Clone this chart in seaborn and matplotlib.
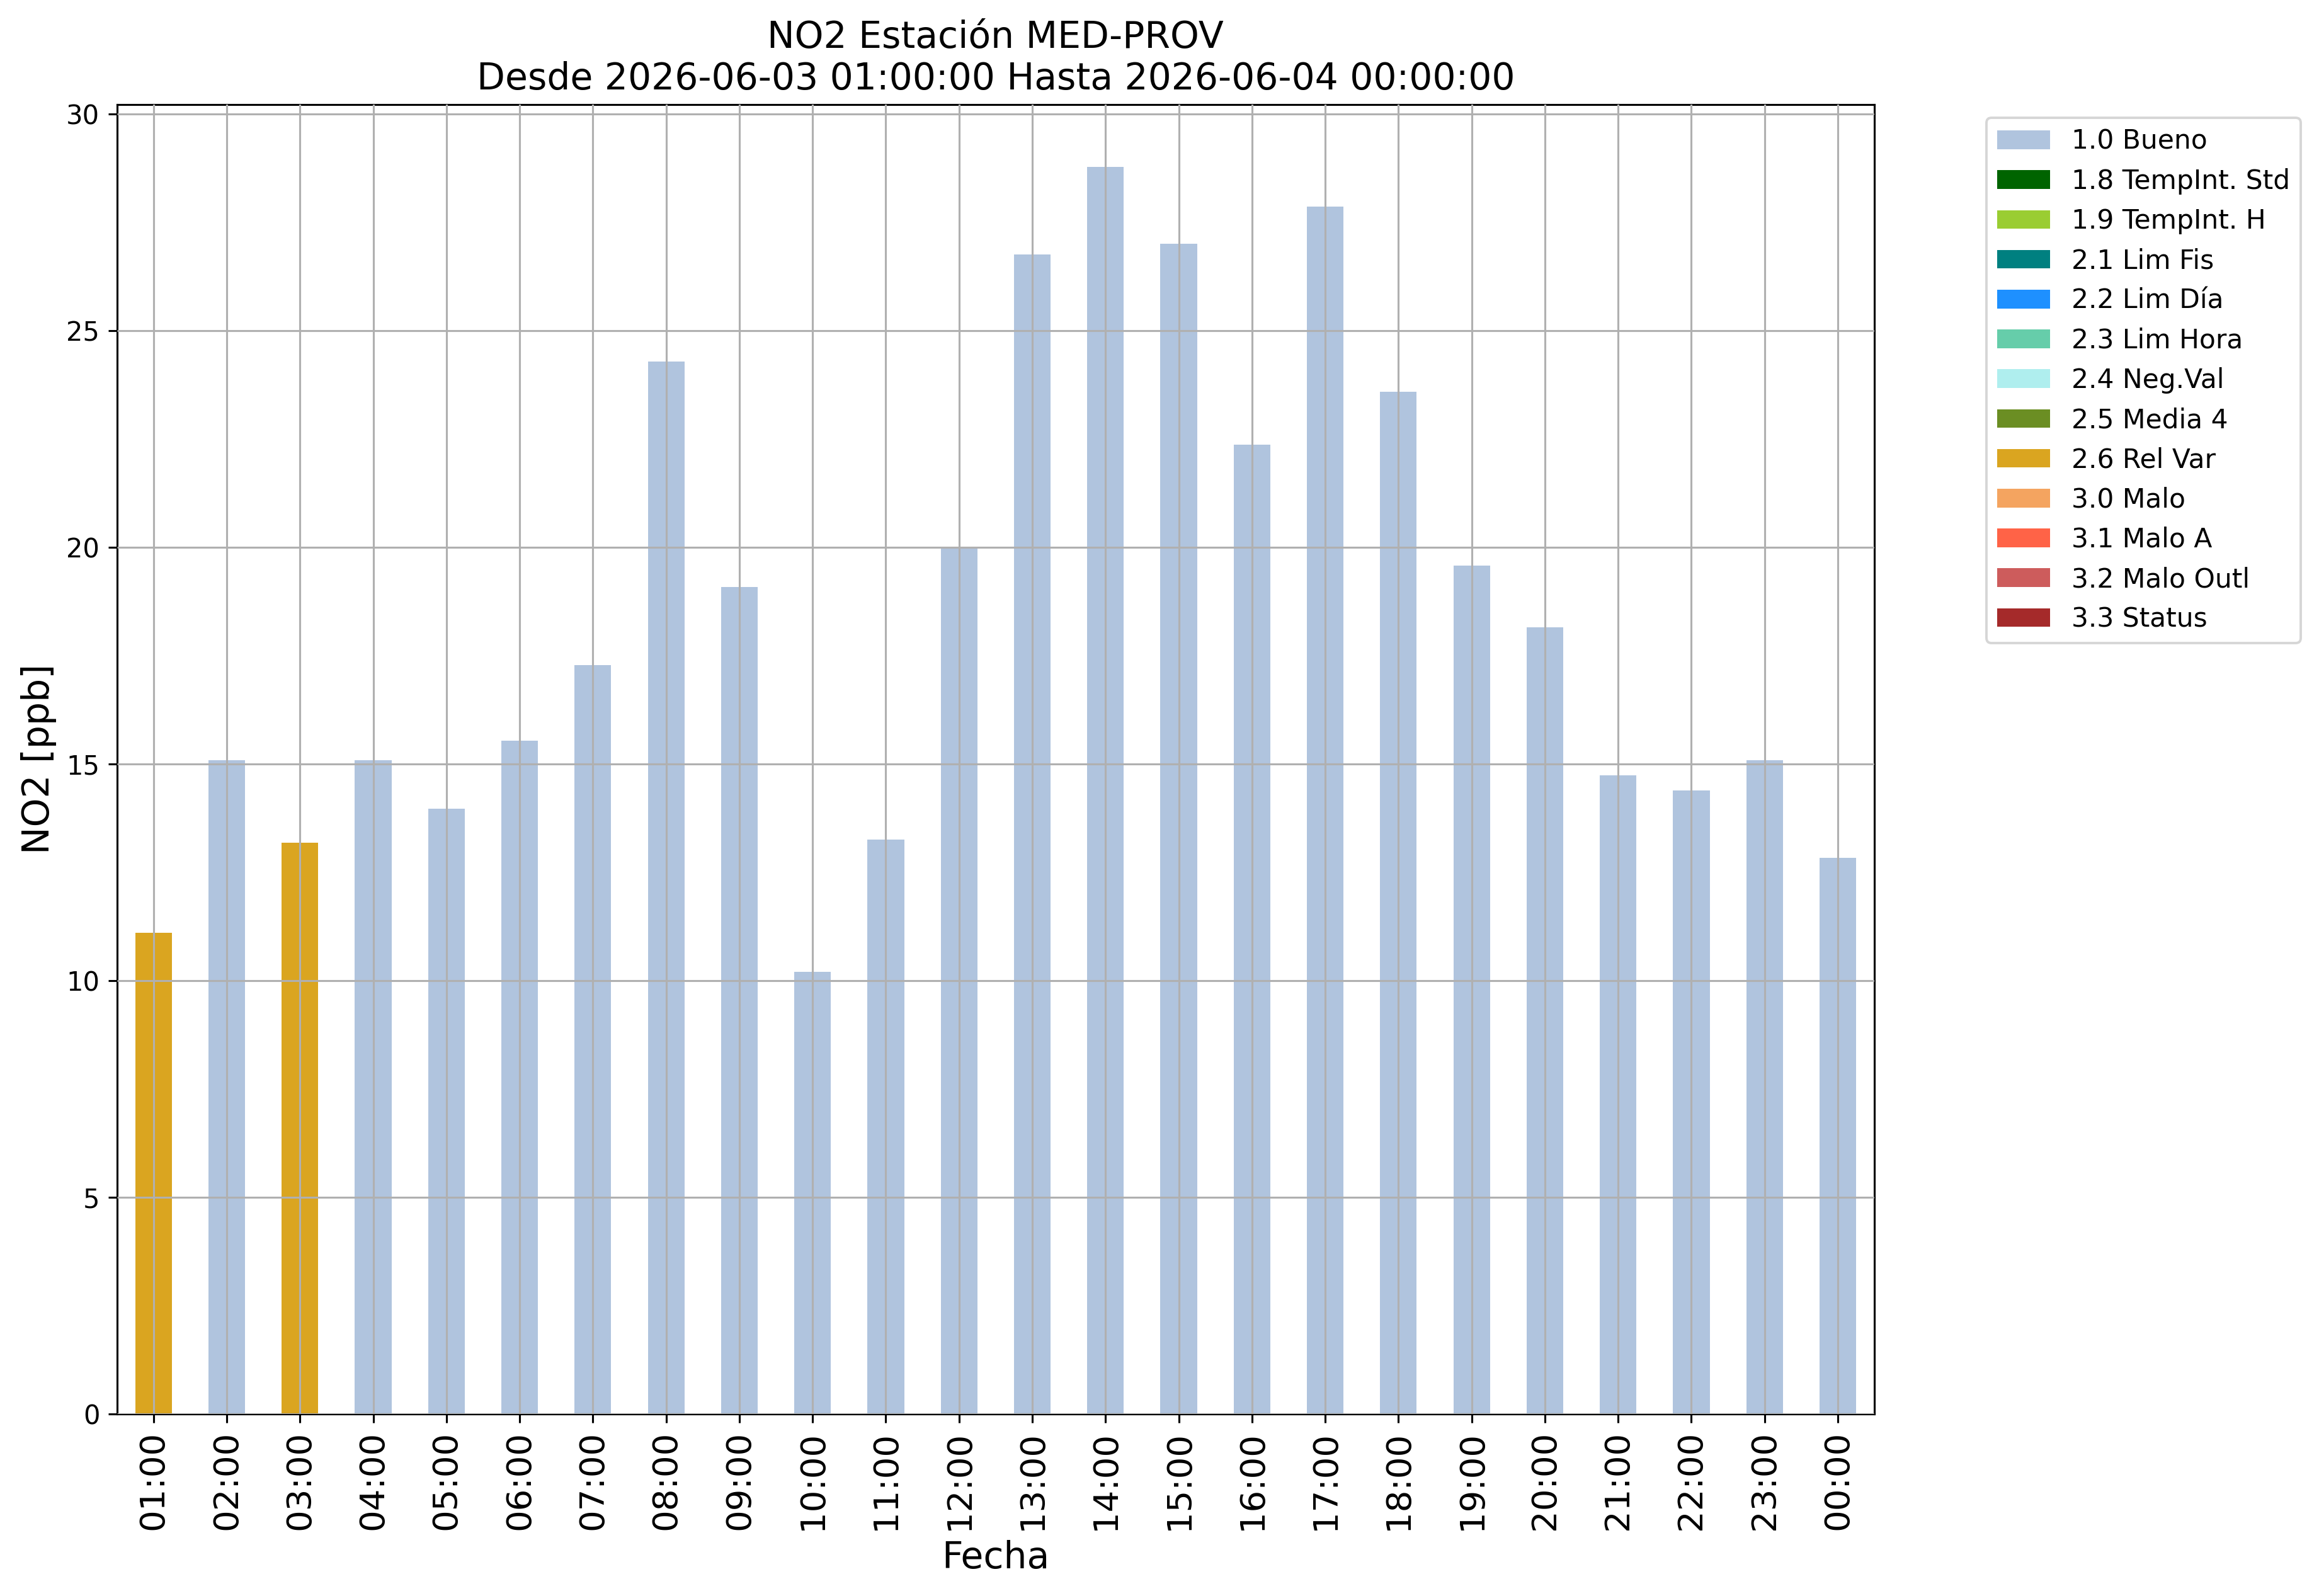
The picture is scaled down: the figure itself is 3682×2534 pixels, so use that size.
import matplotlib
matplotlib.use("Agg")
import matplotlib.pyplot as plt
import seaborn as sns
import pandas as pd

hours = ["01:00", "02:00", "03:00", "04:00", "05:00", "06:00", "07:00", "08:00",
         "09:00", "10:00", "11:00", "12:00", "13:00", "14:00", "15:00", "16:00",
         "17:00", "18:00", "19:00", "20:00", "21:00", "22:00", "23:00", "00:00"]
values = [11.1, 15.09, 13.18, 15.08, 13.97, 15.53, 17.28, 24.28,
          19.08, 10.2, 13.25, 19.96, 26.76, 28.78, 27.0, 22.37,
          27.86, 23.59, 19.57, 18.15, 14.73, 14.39, 15.08, 12.83]
flags = ["2.6 Rel Var", "1.0 Bueno", "2.6 Rel Var"] + ["1.0 Bueno"] * 21

flag_levels = ["1.0 Bueno", "1.8 TempInt. Std", "1.9 TempInt. H", "2.1 Lim Fis",
               "2.2 Lim Día", "2.3 Lim Hora", "2.4 Neg.Val", "2.5 Media 4",
               "2.6 Rel Var", "3.0 Malo", "3.1 Malo A", "3.2 Malo Outl", "3.3 Status"]
flag_colors = ["lightsteelblue", "darkgreen", "yellowgreen", "teal",
               "dodgerblue", "mediumaquamarine", "paleturquoise", "olivedrab",
               "goldenrod", "sandybrown", "tomato", "indianred", "brown"]

title = "NO2 Estación MED-PROV\nDesde 2026-06-03 01:00:00 Hasta 2026-06-04 00:00:00"

df = pd.DataFrame({"Fecha": hours, "value": values, "flag": flags})

DPI = 280
fig = plt.figure(figsize=(3682 / DPI, 2534 / DPI), dpi=DPI)
ax = fig.add_axes([0.0504, 0.1142, 0.8083 - 0.0504, 0.9346 - 0.1142])

sns.barplot(data=df, x="Fecha", y="value", hue="flag", hue_order=flag_levels,
            order=hours, palette=dict(zip(flag_levels, flag_colors)),
            dodge=False, width=0.5, saturation=1, linewidth=0, ax=ax)

ax.set_xlim(-0.5, len(hours) - 0.5)
ax.set_ylim(0, max(values) * 1.05)
ax.set_axisbelow(False)
ax.grid(True, color="#b0b0b0", linewidth=0.8)

ax.set_title(title, fontsize=15)
ax.set_xlabel("Fecha", fontsize=15)
ax.set_ylabel("NO2 [ppb]", fontsize=15)
ax.tick_params(axis="x", labelsize=14, labelrotation=90)
ax.tick_params(axis="y", labelsize=10.7)

sns.move_legend(ax, "upper left", bbox_to_anchor=(1.056, 1), title=None,
                fontsize=10.9, frameon=True)

fig.savefig("out.png", dpi=DPI)
